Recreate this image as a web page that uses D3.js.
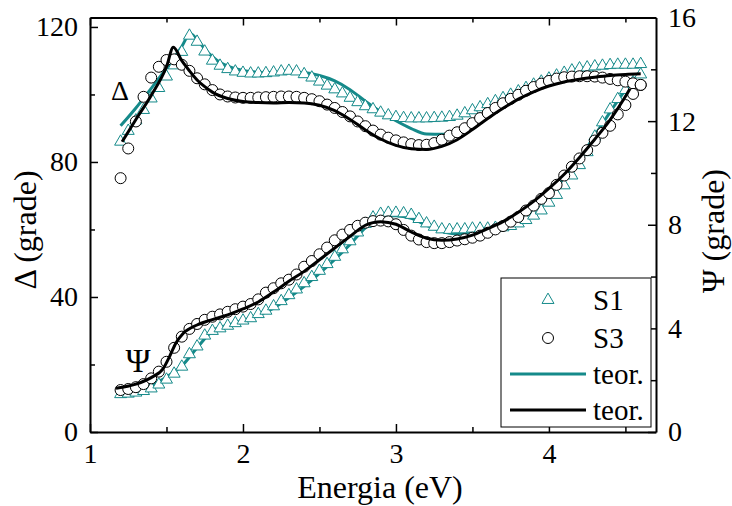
<!DOCTYPE html>
<html>
<head>
<meta charset="utf-8">
<script src="https://cdn.jsdelivr.net/npm/d3@7"></script>
<style>
body { margin: 0; background: #fff; }
text { font-family: "Liberation Serif", "Times New Roman", serif; }
</style>
</head>
<body>
<div id="container"></div>
<script>
// energy grid of the measured points (eV)
var energy = [1.20,1.25,1.30,1.35,1.40,1.45,1.50,1.55,1.60,1.65,1.70,1.75,1.80,1.85,1.90,1.95,
  2.00,2.05,2.10,2.15,2.20,2.25,2.30,2.35,2.40,2.45,2.50,2.55,2.60,2.65,2.70,2.75,2.80,2.85,2.90,2.95,
  3.00,3.05,3.10,3.15,3.20,3.25,3.30,3.35,3.40,3.45,3.50,3.55,3.60,3.65,3.70,3.75,3.80,3.85,3.90,3.95,
  4.00,4.05,4.10,4.15,4.20,4.25,4.30,4.35,4.40,4.45,4.50,4.55,4.60];

// Delta, sample S1 (triangles)
var deltaS1 = [86.0,89.2,92.3,95.4,98.8,101.9,105.3,108.6,112.6,117.4,115.6,112.7,110.0,108.5,107.5,106.8,
  106.4,106.2,106.2,106.3,106.5,106.8,107.0,106.8,106.0,105.0,103.8,102.6,101.5,100.3,99.0,97.7,96.5,95.6,94.6,93.8,
  93.3,93.0,92.9,92.9,92.9,93.0,93.1,93.3,93.7,94.4,95.3,96.2,97.1,98.0,98.9,99.9,100.9,101.9,102.9,103.8,
  104.7,105.6,106.4,107.1,107.7,108.0,108.3,108.5,108.7,108.8,108.8,108.8,109.0];

// Delta, sample S3 (circles)
var deltaS3 = [75.2,84.0,92.0,99.3,105.0,108.2,110.2,110.4,108.8,107.0,104.8,103.0,101.3,100.0,99.4,99.1,
  99.0,99.0,99.1,99.2,99.3,99.4,99.4,99.3,99.0,98.6,98.0,97.0,96.0,94.8,93.5,92.0,90.6,89.3,88.1,87.2,
  86.4,85.8,85.3,85.0,85.1,85.6,86.6,87.8,88.8,90.0,91.5,93.0,94.5,96.0,97.4,98.7,99.9,101.1,102.2,103.2,
  104.0,104.7,105.1,105.3,105.4,105.4,105.3,105.0,104.6,104.2,103.8,103.3,102.8];

// Psi, sample S1 (triangles)
var psiS1 = [1.46,1.48,1.52,1.58,1.68,1.83,2.02,2.25,2.52,3.00,3.30,3.72,3.90,4.00,4.10,4.20,
  4.30,4.39,4.55,4.68,4.85,5.05,5.28,5.50,5.74,5.98,6.22,6.48,6.76,7.05,7.36,7.70,8.03,8.28,8.42,8.46,
  8.46,8.44,8.38,8.22,8.05,7.92,7.82,7.80,7.82,7.82,7.85,7.85,7.85,7.88,7.90,7.95,8.05,8.18,8.35,8.55,
  8.85,9.15,9.52,9.90,10.30,10.80,11.40,11.95,12.45,12.85,13.20,13.50,13.80];

// Psi, sample S3 (circles)
var psiS3 = [1.62,1.66,1.73,1.85,2.07,2.33,2.71,3.25,3.68,3.98,4.17,4.33,4.45,4.54,4.64,4.74,
  4.84,4.94,5.12,5.38,5.55,5.74,5.88,6.08,6.38,6.60,6.86,7.12,7.40,7.62,7.80,7.96,8.08,8.14,8.16,8.13,
  8.02,7.80,7.58,7.43,7.33,7.29,7.29,7.33,7.39,7.44,7.50,7.58,7.69,7.82,7.95,8.12,8.30,8.55,8.74,9.00,
  9.22,9.54,9.90,10.24,10.56,10.88,11.25,11.55,11.82,12.26,12.62,13.05,13.40];

// theoretical curves
var teorDeltaS1E = [1.20,1.30,1.40,1.50,1.60,1.655,1.70,1.75,1.80,1.85,1.90,2.00,2.10,2.20,2.30,2.40,2.50,2.60,2.70,
  2.80,2.90,3.00,3.10,3.20,3.30,3.40,3.50,3.60,3.70,3.80,3.90,4.00,4.10,4.20,4.30,4.40,4.50,4.60];
var teorDeltaS1 = [90.7,96.0,101.8,107.8,114.2,118.0,116.3,113.5,111.2,109.5,108.4,107.1,106.6,106.5,106.5,106.4,105.6,104.0,101.4,
  98.0,94.9,92.2,89.9,88.3,88.2,89.4,91.6,94.5,97.4,100.2,102.7,104.8,106.4,107.6,108.3,108.7,108.8,108.8];

var teorDeltaS3E = [1.21,1.30,1.40,1.50,1.545,1.60,1.65,1.70,1.75,1.80,1.90,2.00,2.10,2.20,2.30,2.40,2.50,2.60,2.70,
  2.80,2.90,3.00,3.10,3.20,3.30,3.40,3.50,3.60,3.70,3.80,3.90,4.00,4.10,4.20,4.30,4.40,4.50,4.60];
var teorDeltaS3 = [86.0,92.6,99.7,108.2,114.0,110.0,107.0,104.3,102.3,100.7,98.8,97.9,97.6,97.5,97.6,97.5,96.8,95.2,92.6,
  89.5,86.8,84.9,83.9,83.7,84.6,86.6,89.6,92.9,95.9,98.6,100.8,102.5,103.7,104.5,105.1,105.6,105.9,106.1];

var teorPsiS1E = [1.18,1.30,1.40,1.50,1.60,1.70,1.80,1.90,2.00,2.10,2.20,2.30,2.40,2.50,2.60,2.70,2.80,2.90,
  3.00,3.10,3.20,3.30,3.40,3.50,3.60,3.70,3.80,3.90,4.00,4.10,4.20,4.30,4.40,4.50,4.55];
var teorPsiS1 = [1.38,1.55,1.80,2.12,2.55,3.25,3.90,4.12,4.30,4.50,4.78,5.18,5.62,6.12,6.66,7.24,7.88,8.30,
  8.35,8.25,7.98,7.75,7.65,7.70,7.82,8.02,8.32,8.72,9.22,9.82,10.55,11.45,12.35,13.20,13.55];

var teorPsiS3E = [1.17,1.30,1.40,1.48,1.52,1.56,1.61,1.70,1.80,1.90,2.00,2.10,2.20,2.30,2.40,2.50,2.60,2.70,2.80,
  2.90,3.00,3.10,3.20,3.30,3.40,3.50,3.60,3.70,3.80,3.90,4.00,4.10,4.20,4.30,4.40,4.50,4.53];
var teorPsiS3 = [1.69,1.85,2.10,2.46,2.91,3.42,3.81,4.13,4.34,4.52,4.75,5.02,5.40,5.82,6.20,6.65,7.10,7.55,7.98,
  8.12,8.02,7.72,7.48,7.40,7.45,7.60,7.85,8.12,8.48,8.90,9.40,9.95,10.60,11.30,12.05,12.95,13.25];

var xTicks = [1, 2, 3, 4];
var xMinor = [1.5, 2.5, 3.5, 4.5];
var deltaTicks = [0, 40, 80, 120];
var deltaMinor = [20, 60, 100];
var psiTicks = [0, 4, 8, 12, 16];
var psiMinor = [2, 6, 10, 14];

var legendItems = [
  {label: "S1", kind: "triangle"},
  {label: "S3", kind: "circle"},
  {label: "teor.", kind: "tealLine"},
  {label: "teor.", kind: "blackLine"}
];

var teal = "#158a8a";
var width = 732, height = 506;
var plotL = 90, plotR = 656, plotT = 17.5, plotB = 432;
var font = "'Liberation Serif','Times New Roman',serif";

var svg = d3.select("#container").append("svg")
  .attr("width", width).attr("height", height);

var x = d3.scaleLinear().domain([1, 4.7]).range([plotL, plotR]);
var yD = d3.scaleLinear().domain([0, 122.8]).range([plotB, plotT]);
var yP = d3.scaleLinear().domain([0, 16]).range([plotB, plotT]);

function zip(xs, ys) {
  return xs.map(function(v, i) { return [v, ys[i]]; });
}

// lines (teal under the markers, black on top)
var lineD = d3.line().x(function(d) { return x(d[0]); }).y(function(d) { return yD(d[1]); })
  .curve(d3.curveMonotoneX);
var lineP = d3.line().x(function(d) { return x(d[0]); }).y(function(d) { return yP(d[1]); })
  .curve(d3.curveMonotoneX);

var gTeal = svg.append("g").attr("fill", "none").attr("stroke", teal).attr("stroke-width", 3);
gTeal.append("path").attr("d", lineD(zip(teorDeltaS1E, teorDeltaS1)));
gTeal.append("path").attr("d", lineP(zip(teorPsiS1E, teorPsiS1)));

var tri = d3.symbol().type(d3.symbolTriangle).size(62);

function triangles(ys, yScale) {
  svg.append("g").selectAll("path")
    .data(zip(energy, ys)).enter().append("path")
    .attr("d", tri)
    .attr("transform", function(d) { return "translate(" + x(d[0]) + "," + yScale(d[1]) + ")"; })
    .attr("fill", "#fff").attr("stroke", teal).attr("stroke-width", 1);
}
function circles(ys, yScale) {
  svg.append("g").selectAll("circle")
    .data(zip(energy, ys)).enter().append("circle")
    .attr("cx", function(d) { return x(d[0]); })
    .attr("cy", function(d) { return yScale(d[1]); })
    .attr("r", 5.5)
    .attr("fill", "#fff").attr("stroke", "#000").attr("stroke-width", 1);
}

triangles(deltaS1, yD);
triangles(psiS1, yP);
circles(deltaS3, yD);
circles(psiS3, yP);

var gBlack = svg.append("g").attr("fill", "none").attr("stroke", "#000").attr("stroke-width", 3);
gBlack.append("path").attr("d", lineD(zip(teorDeltaS3E, teorDeltaS3)));
gBlack.append("path").attr("d", lineP(zip(teorPsiS3E, teorPsiS3)));

// axes, ticks pointing inward
function styleAxis(g) {
  g.attr("font-family", font).attr("font-size", 28);
  g.select(".domain").attr("stroke-width", 2);
  g.selectAll(".tick line").attr("stroke-width", 1.5);
  g.selectAll(".tick text").attr("fill", "#000");
}
function minorAxis(g) {
  g.select(".domain").remove();
  g.selectAll(".tick line").attr("stroke-width", 1.5);
}

svg.append("g").attr("transform", "translate(0," + plotB + ")")
  .call(d3.axisBottom(x).tickValues(xTicks).tickSize(-8).tickSizeOuter(0).tickPadding(11).tickFormat(d3.format("d")))
  .call(styleAxis);
svg.append("g").attr("transform", "translate(0," + plotB + ")")
  .call(d3.axisBottom(x).tickValues(xMinor).tickSize(-5).tickFormat(""))
  .call(minorAxis);
svg.append("g").attr("transform", "translate(0," + plotT + ")")
  .call(d3.axisTop(x).tickValues(xTicks).tickSize(-8).tickSizeOuter(0).tickFormat(""))
  .call(styleAxis);
svg.append("g").attr("transform", "translate(0," + plotT + ")")
  .call(d3.axisTop(x).tickValues(xMinor).tickSize(-5).tickFormat(""))
  .call(minorAxis);

svg.append("g").attr("transform", "translate(" + plotL + ",0)")
  .call(d3.axisLeft(yD).tickValues(deltaTicks).tickSize(-8).tickSizeOuter(0).tickPadding(12))
  .call(styleAxis);
svg.append("g").attr("transform", "translate(" + plotL + ",0)")
  .call(d3.axisLeft(yD).tickValues(deltaMinor).tickSize(-5).tickFormat(""))
  .call(minorAxis);

svg.append("g").attr("transform", "translate(" + plotR + ",0)")
  .call(d3.axisRight(yP).tickValues(psiTicks).tickSize(-8).tickSizeOuter(0).tickPadding(12))
  .call(styleAxis);
svg.append("g").attr("transform", "translate(" + plotR + ",0)")
  .call(d3.axisRight(yP).tickValues(psiMinor).tickSize(-5).tickFormat(""))
  .call(minorAxis);

// axis titles
svg.append("text").attr("x", 380).attr("y", 498)
  .attr("text-anchor", "middle").attr("font-size", 32).text("Energia (eV)");
svg.append("text").attr("transform", "translate(36,230) rotate(-90)")
  .attr("text-anchor", "middle").attr("font-size", 32).text("Δ (grade)");
svg.append("text").attr("transform", "translate(724,231) rotate(-90)")
  .attr("text-anchor", "middle").attr("font-size", 32).text("Ψ (grade)");

// curve labels
svg.append("text").attr("x", 120).attr("y", 100).attr("text-anchor", "middle")
  .attr("font-size", 28).text("Δ");
svg.append("text").attr("x", 138).attr("y", 372).attr("text-anchor", "middle")
  .attr("font-size", 34).text("Ψ");

// legend
var legend = svg.append("g");
legend.append("rect").attr("x", 501).attr("y", 278).attr("width", 150).attr("height", 149)
  .attr("fill", "#fff").attr("stroke", "#000").attr("stroke-width", 1);
var rowY = [300, 338, 374, 410];
legendItems.forEach(function(item, i) {
  var cy = rowY[i];
  if (item.kind === "triangle") {
    legend.append("path").attr("d", tri).attr("transform", "translate(548," + cy + ")")
      .attr("fill", "#fff").attr("stroke", teal).attr("stroke-width", 1);
  } else if (item.kind === "circle") {
    legend.append("circle").attr("cx", 548).attr("cy", cy).attr("r", 5.5)
      .attr("fill", "#fff").attr("stroke", "#000").attr("stroke-width", 1);
  } else {
    legend.append("line").attr("x1", 510).attr("x2", 586).attr("y1", cy).attr("y2", cy)
      .attr("stroke", item.kind === "tealLine" ? teal : "#000").attr("stroke-width", 3);
  }
  legend.append("text").attr("x", 593).attr("y", cy + 10).attr("font-size", 29).text(item.label);
});
</script>
</body>
</html>
